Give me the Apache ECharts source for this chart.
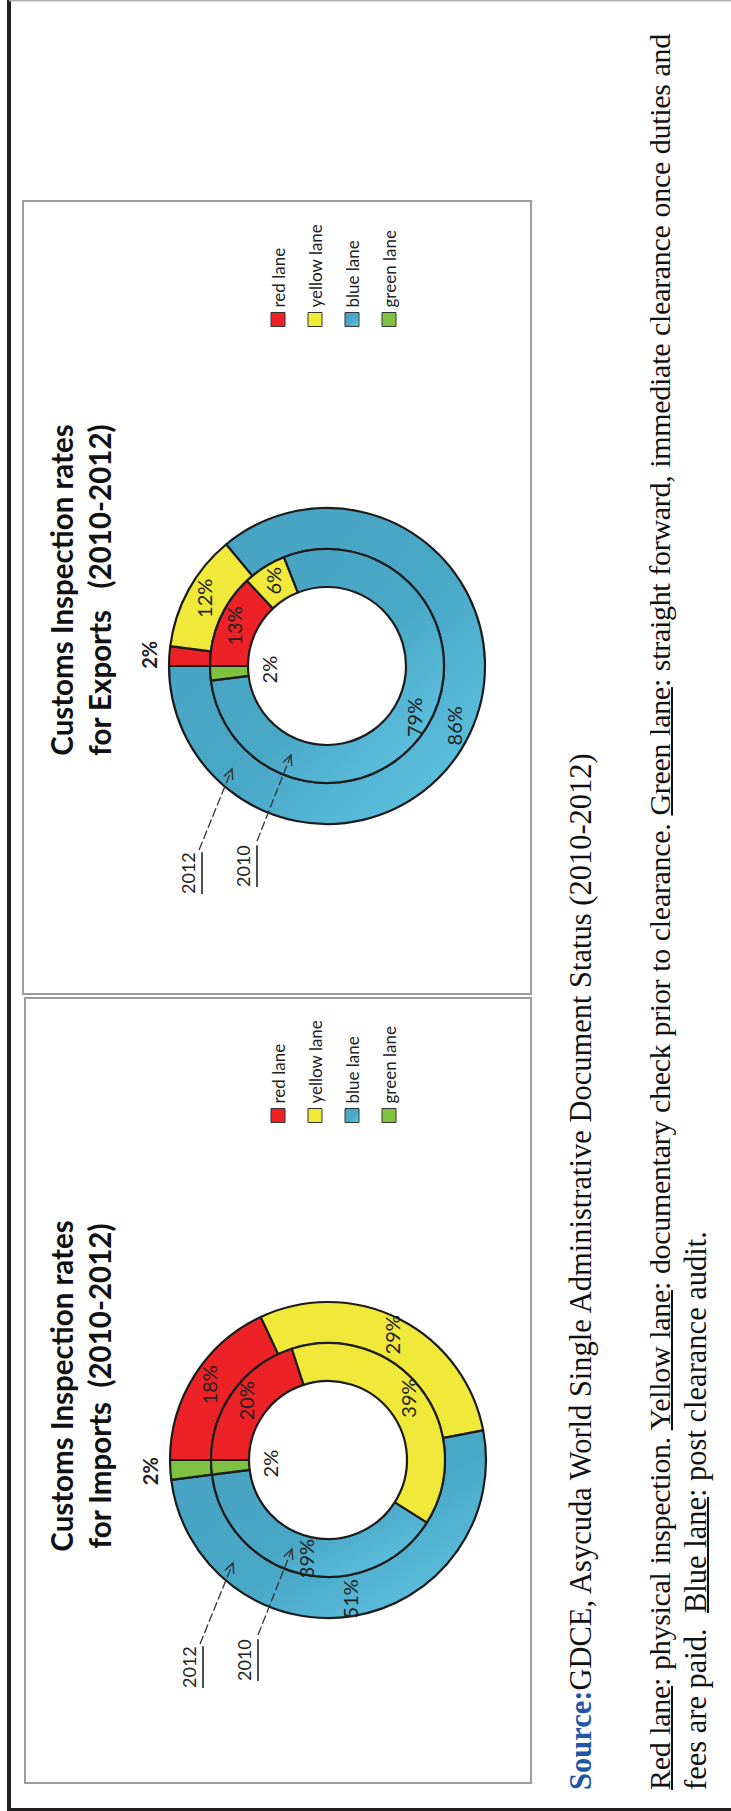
<!DOCTYPE html>
<html><head><meta charset="utf-8">
<script src="https://cdn.jsdelivr.net/npm/echarts@6/dist/echarts.min.js"></script>
<style>
html,body{margin:0;padding:0;background:#fff;overflow:hidden;width:731px;height:1811px;}
#page{position:absolute;left:0;top:0;width:1811px;height:731px;transform-origin:0 0;transform:translate(0,1811px) rotate(-90deg);background:#fff;}
#chart{position:absolute;left:0;top:0;width:1811px;height:731px;}
.txt{position:absolute;font-family:'Liberation Serif','Times New Roman',serif;font-size:30px;line-height:37px;color:#111;}
.u{text-decoration:underline;text-decoration-thickness:1.5px;}
</style></head>
<body>
<div id="page">
  <div id="chart"></div>
  <div class="txt" style="left:21px;top:563px;white-space:nowrap;font-size:30.5px;"><b style="color:#1f57a6">Source:</b>GDCE, Asycuda World Single Administrative Document Status (2010-2012)</div>
  <div class="txt" style="left:21px;top:641px;width:1756px;letter-spacing:-0.3px;word-spacing:-1px;text-align:justify;text-align-last:justify;"><span class="u">Red lane</span>: physical inspection. <span class="u">Yellow lane</span>: documentary check prior to clearance. <span class="u">Green lane</span>: straight forward, immediate clearance once duties and</div>
  <div class="txt" style="left:21px;top:678px;white-space:nowrap;font-size:30.5px;">fees are paid.&nbsp; <span class="u">Blue lane</span>: post clearance audit.</div>
</div>
<script>
// ---- data ----
const categories = ['red lane', 'yellow lane', 'blue lane', 'green lane'];
const imports2012 = [18, 29, 51, 2];
const imports2010 = [20, 39, 39, 2];
const exports2012 = [2, 12, 86, 0];
const exports2010 = [13, 6, 79, 2];
const ringYears = ['2012', '2010'];
const titleImports = ['Customs Inspection rates', 'for Imports  (2010-2012)'];
const titleExports = ['Customs Inspection rates', 'for Exports   (2010-2012)'];

// ---- styles / layout ----
const blueFill = {type: 'linear', x: 1, y: 0, x2: 0, y2: 1,
  colorStops: [{offset: 0, color: '#47a2c0'}, {offset: 0.55, color: '#4aa8c7'}, {offset: 1, color: '#63c7e6'}]};
const laneColors = ['#ec2227', '#f1e93a', blueFill, '#7fc241'];
const R_HOLE = 79, R_MID = 117, R_OUT = 158;
const FONT = 'Lato, "Open Sans", sans-serif';
const YEAR_FONT = '18px ' + FONT;

const charts = [
  {outer: imports2012, inner: imports2010, title: titleImports, cx: 351, cy: 328, box: [28, 25, 785, 506], titleX: 420, legendX: 683},
  {outer: exports2012, inner: exports2010, title: titleExports, cx: 1145, cy: 327, box: [817, 23, 793, 508], titleX: 1216, legendX: 1479}
];
// annotation offsets relative to the pie centre
const ann = [
  {tx: -228, ty: -148, uy: -125, a0: [-184, -128], a1: [-103, -95]},
  {tx: -221, ty: -93, uy: -70, a0: [-175, -70], a1: [-89, -36]}
];

const measureCtx = document.createElement('canvas').getContext('2d');
function textWidth(t, font) { measureCtx.font = font; return measureCtx.measureText(t).width; }

function ring(values, r0, r1, cx, cy) {
  return {
    type: 'pie', center: [cx, cy], radius: [r0, r1], startAngle: 90, clockwise: true,
    avoidLabelOverlap: false, silent: true, z: 2,
    itemStyle: {borderColor: '#1c1c1c', borderWidth: 2.2},
    label: {position: 'inside', formatter: '{c}%', fontFamily: FONT, fontSize: 20, color: '#222'},
    labelLine: {show: false}, emphasis: {disabled: true},
    data: values.map((v, i) => ({name: categories[i], value: v, itemStyle: {color: laneColors[i]}, label: {show: v > 2}}))
  };
}
function smallLabels(values, r0, r1, cx, cy, bold) {
  return {
    type: 'pie', center: [cx, cy], radius: [r0, r1], startAngle: 90, clockwise: true,
    avoidLabelOverlap: false, silent: true, z: 1, legendHoverLink: false,
    itemStyle: {color: 'rgba(0,0,0,0)', borderWidth: 0},
    label: {position: 'inside', formatter: '{c}%', fontFamily: FONT, fontSize: 20, color: '#222', fontWeight: bold ? 'bold' : 'normal'},
    labelLine: {show: false}, emphasis: {disabled: true},
    data: values.map((v, i) => ({name: categories[i], value: v, label: {show: v > 0 && v <= 2}}))
  };
}

const series = [];
charts.forEach(c => {
  series.push(ring(c.outer, R_MID, R_OUT, c.cx, c.cy));
  series.push(ring(c.inner, R_HOLE, R_MID, c.cx, c.cy));
});
charts.forEach(c => {
  series.push(smallLabels(c.outer, R_OUT + 2, R_OUT + 32, c.cx, c.cy, true));
  series.push(smallLabels(c.inner, 40, 70, c.cx, c.cy, false));
});

const graphic = [
  {type: 'rect', shape: {x: 0, y: 7, width: 1811, height: 4}, style: {fill: '#231f20'}, z: 100},
  {type: 'rect', shape: {x: 0, y: 7, width: 3, height: 724}, style: {fill: '#231f20'}, z: 100},
  {type: 'rect', shape: {x: 1809.5, y: 9, width: 1.5, height: 722}, style: {fill: '#b0b0b0'}, z: 100}
];
charts.forEach(c => {
  graphic.push({type: 'rect', shape: {x: c.box[0], y: c.box[1], width: c.box[2], height: c.box[3]},
    style: {fill: 'none', stroke: '#9c9c9c', lineWidth: 2}, z: 0});
  ann.forEach((a, k) => {
    const w = textWidth(ringYears[k], YEAR_FONT);
    graphic.push({type: 'text', x: c.cx + a.tx, y: c.cy + a.ty, z: 100,
      style: {text: ringYears[k], font: YEAR_FONT, fill: '#222', verticalAlign: 'top', align: 'left'}});
    graphic.push({type: 'line', z: 100, shape: {x1: c.cx + a.tx, y1: c.cy + a.uy, x2: c.cx + a.tx + w, y2: c.cy + a.uy},
      style: {stroke: '#222', lineWidth: 1.6}});
    const x0 = c.cx + a.a0[0], y0 = c.cy + a.a0[1], x1 = c.cx + a.a1[0], y1 = c.cy + a.a1[1];
    graphic.push({type: 'line', z: 100, shape: {x1: x0, y1: y0, x2: x1, y2: y1},
      style: {stroke: '#333', lineWidth: 1.3, lineDash: [9, 3]}});
    const len = Math.hypot(x1 - x0, y1 - y0), dx = (x1 - x0) / len, dy = (y1 - y0) / len;
    const arm = (ang) => {
      const ca = Math.cos(ang), sa = Math.sin(ang);
      return [x1 - 11 * (dx * ca - dy * sa), y1 - 11 * (dx * sa + dy * ca)];
    };
    graphic.push({type: 'polyline', z: 100, shape: {points: [arm(0.45), [x1, y1], arm(-0.45)]},
      style: {stroke: '#333', lineWidth: 1.4, fill: 'none'}});
  });
});

const option = {
  backgroundColor: 'transparent',
  animation: false,
  title: charts.map(c => ({
    text: c.title.join('\n'), left: c.titleX, top: 37, textAlign: 'center',
    textStyle: {fontFamily: FONT, fontWeight: 'bold', fontSize: 29.5, lineHeight: 38, color: '#111'}
  })),
  legend: charts.map(c => ({
    orient: 'vertical', left: c.legendX, top: 264, data: categories, icon: 'rect',
    itemWidth: 14, itemHeight: 14, itemGap: 19, selectedMode: false,
    textStyle: {fontFamily: FONT, fontSize: 17, color: '#222', lineHeight: 18},
    itemStyle: {borderColor: '#333', borderWidth: 1}
  })),
  series: series,
  graphic: graphic
};
const chart = echarts.init(document.getElementById('chart'), null, {renderer: 'svg', width: 1811, height: 731});
chart.setOption(option);
</script>
</body></html>
